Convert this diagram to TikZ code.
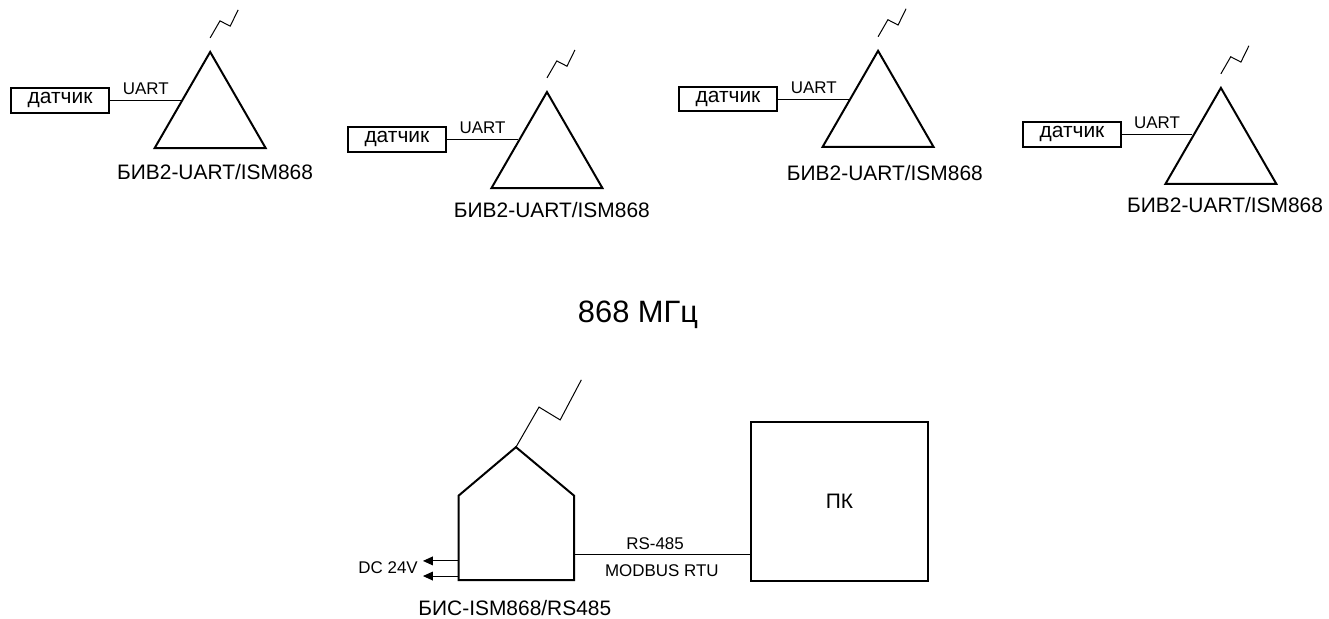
\documentclass[tikz,border=0pt]{standalone}
\usepackage{fontspec}
\setmainfont{Liberation Sans}
\usetikzlibrary{arrows.meta,positioning,shapes.geometric}

\begin{document}
\begin{tikzpicture}[>=Latex,
  biv/.style={draw,line width=1.5pt,regular polygon,regular polygon sides=3,minimum size=3.39cm,inner sep=0pt},
  sens/.style={draw,line width=1.5pt,minimum width=2.59cm,minimum height=0.66cm,inner sep=0pt,font=\fontsize{15.75}{18}\selectfont},
  lbl/.style={font=\fontsize{15.75}{19}\selectfont,inner sep=0pt},
  sml/.style={font=\fontsize{12.75}{15}\selectfont,inner sep=0pt},
  wire/.style={line width=0.75pt},
  ant/.style={line width=0.75pt}]
\useasboundingbox (0,0) rectangle (35.16,16.35);
\node[biv] (t0) at (5.56,13.28) {};
\node[biv] (t1) at (14.47,12.22) {};
\node[biv] (t2) at (23.23,13.31) {};
\node[biv] (t3) at (32.30,12.33) {};
\node[sens] (s0) at (1.59,13.70) {датчик};
\node[sens] (s1) at (10.50,12.67) {датчик};
\node[sens] (s2) at (19.26,13.73) {датчик};
\node[sens] (s3) at (28.36,12.80) {датчик};
\draw[wire] (s0.east) -- node[sml,above=3.75pt] {UART} (s0.east -| t0.side 1);
\draw[wire] (s1.east) -- node[sml,above=3.75pt] {UART} (s1.east -| t1.side 1);
\draw[wire] (s2.east) -- node[sml,above=3.75pt] {UART} (s2.east -| t2.side 1);
\draw[wire] (s3.east) -- node[sml,above=3.75pt] {UART} (s3.east -| t3.side 1);
\draw[ant] (t0.corner 1) ++(0,0.32) -- ++(0.26,0.45) -- ++(0.27,-0.14) -- ++(0.21,0.43);
\draw[ant] (t1.corner 1) ++(0,0.32) -- ++(0.26,0.45) -- ++(0.27,-0.14) -- ++(0.21,0.43);
\draw[ant] (t2.corner 1) ++(0,0.32) -- ++(0.26,0.45) -- ++(0.27,-0.14) -- ++(0.21,0.43);
\draw[ant] (t3.corner 1) ++(0,0.32) -- ++(0.26,0.45) -- ++(0.27,-0.14) -- ++(0.21,0.43);
\node[lbl] (l0) at (5.69,11.80) {БИВ2-UART/ISM868};
\node[lbl] (l1) at (14.60,10.79) {БИВ2-UART/ISM868};
\node[lbl] (l2) at (23.41,11.77) {БИВ2-UART/ISM868};
\node[lbl] (l3) at (32.41,10.93) {БИВ2-UART/ISM868};
\node[font=\fontsize{23.25}{28}\selectfont,anchor=base,inner sep=0pt] (freq) at (16.88,7.83) {868 МГц};
\node[minimum width=3.04cm,minimum height=2.22cm,inner sep=0pt] (bis) at (13.66,2.12) {};
\coordinate (roof) at (13.65,4.52);
\draw[line width=1.5pt] (bis.south west) -- (bis.north west) -- (roof) -- (bis.north east) -- (bis.south east) -- cycle;
\draw[ant] (roof) -- ++(0.61,1.06) -- ++(0.56,-0.34) -- ++(0.56,1.06);
\node[lbl] (bl) at (13.62,0.27) {БИС-ISM868/RS485};
\coordinate (dc0) at (11.19,1.51);
\coordinate (dc1) at (11.19,1.11);
\draw[wire,-{Triangle[length=2.6mm,width=2.3mm]}] (dc0 -| bis.west) -- (dc0);
\draw[wire,-{Triangle[length=2.6mm,width=2.3mm]}] (dc1 -| bis.west) -- (dc1);
\node[sml,anchor=east] (dc) at (11.06,1.32) {DC 24V};
\node[draw,line width=1.5pt,minimum width=4.68cm,minimum height=4.21cm,font=\fontsize{15.75}{18}\selectfont] (pc) at (22.21,3.08) {ПК};
\coordinate (bus) at (17.5,1.67);
\draw[wire] (bus -| bis.east) -- (bus -| pc.west);
\node[sml] (rs) at (17.33,1.96) {RS-485};
\node[sml] (mb) at (17.51,1.24) {MODBUS RTU};
\end{tikzpicture}
\end{document}
